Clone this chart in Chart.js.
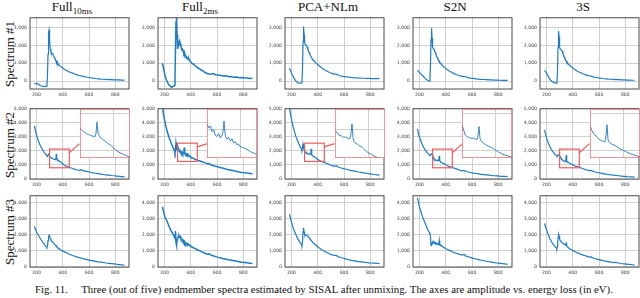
<!DOCTYPE html>
<html>
<head>
<meta charset="utf-8">
<script src="https://cdn.jsdelivr.net/npm/chart.js@4/dist/chart.umd.min.js"></script>
<style>
  html, body { margin: 0; padding: 0; background: #fff; }
  body { width: 640px; height: 298px; position: relative; overflow: hidden;
         font-family: 'Liberation Serif', 'DejaVu Serif', serif; color: #111; }
  canvas { position: absolute; }
  .title { position: absolute; top: -1px; font-size: 13px; white-space: nowrap; transform: translateX(-50%); }
  .title sub { font-size: 9px; vertical-align: -3px; line-height: 0; }
  .rowlab { position: absolute; font-size: 13px; white-space: nowrap; transform: translate(-50%, -50%) rotate(-90deg); }
  #caption { position: absolute; left: 35px; top: 283px; font-size: 10.8px; white-space: pre; }
</style>
</head>
<body>
<div id="fig"></div>
<div id="caption">Fig. 11.     Three (out of five) endmember spectra estimated by SISAL after unmixing. The axes are amplitude vs. energy loss (in eV).</div>
<script>
'use strict';

// ──────────────────────────────────────────────────────────────
//  Data (energy loss in eV, amplitude)
// ──────────────────────────────────────────────────────────────
const ENERGY = [185, 195, 205, 215, 225, 235, 245, 255, 265, 275,
  280, 284, 288, 292, 296, 300,
  305, 310, 315, 320, 325, 330, 335, 340, 345, 348, 351, 354, 357, 360, 365, 370, 375, 380, 385, 390, 395, 400, 410, 420, 430, 440, 450,
  465, 480, 495, 510, 525, 540, 555, 570, 590, 610, 630, 650, 670, 690, 710, 730, 750, 770, 790, 810, 830, 850, 870];

const COLUMNS = ['Full|10ms', 'Full|2ms', 'PCA+NLm', 'S2N', '3S'];
const ROWS = ['Spectrum #1', 'Spectrum #2', 'Spectrum #3'];
const X_TICKS = [200, 400, 600, 800];
const Y_TICKS = [[0, 1000, 2000, 3000], [0, 1000, 2000, 3000, 4000, 5000], [0, 1000, 2000, 3000, 4000]];

// Spectrum #1
const spec1Full10 = [-120, -150, -130, -180, -230, -260, -280, -300, -310, -280,
  -200, 300, 1500, 2700, 2850, 2300,
  1800, 1620, 1580, 1560, 1500, 1420, 1340, 1260, 1180, 1120, 1060, 1030, 1090, 1000, 960, 920, 880, 850, 820, 790, 760, 730, 680, 630, 590, 550, 510,
  470, 430, 385, 350, 315, 290, 265, 240, 215, 190, 165, 145, 130, 115, 105, 95, 85, 80, 75, 70, 65, 60, 55];
const spec1Full2 = [1000, 650, 300, 80, -100, -220, -280, -350, -300, -250,
  200, 1800, 3300, 3650, 2600, 1800,
  2000, 2150, 2250, 2100, 1950, 1850, 1800, 1700, 1650, 1560, 1620, 1500, 1480, 1420, 1380, 1320, 1280, 1220, 1250, 1150, 1100, 1080, 980, 960, 870, 830, 760,
  700, 620, 560, 480, 430, 400, 380, 420, 360, 340, 310, 290, 300, 250, 240, 220, 230, 190, 200, 170, 180, 150, 160];
const spec1Pca = [720, 550, 380, 220, 100, 0, -80, -120, -130, -100,
  -50, 600, 2200, 3050, 2600, 2150,
  2050, 2000, 1950, 1900, 1780, 1680, 1580, 1500, 1420, 1380, 1330, 1300, 1260, 1230, 1180, 1140, 1100, 1060, 1030, 990, 960, 930, 860, 800, 740, 690, 640,
  580, 520, 470, 430, 390, 390, 340, 300, 270, 250, 230, 210, 195, 185, 175, 165, 160, 155, 150, 145, 145, 140, 140];
const spec1S2n = [620, 520, 450, 380, 300, 220, 140, 80, 30, 0,
  100, 900, 2300, 2950, 2400, 1900,
  1820, 1780, 1700, 1600, 1500, 1400, 1320, 1240, 1180, 1130, 1100, 1060, 1030, 1000, 950, 910, 870, 830, 800, 770, 740, 710, 650, 600, 550, 510, 470,
  420, 370, 330, 290, 260, 270, 220, 195, 170, 150, 130, 115, 100, 90, 80, 70, 65, 60, 55, 50, 45, 40, 40];
const spec1S3 = [600, 520, 400, 250, 120, 30, -30, -70, -100, -120,
  -60, 500, 1900, 2800, 2500, 1900,
  1780, 1750, 1720, 1680, 1560, 1460, 1360, 1270, 1200, 1150, 1130, 1080, 1060, 1020, 970, 930, 890, 860, 830, 800, 770, 740, 680, 630, 580, 540, 500,
  450, 400, 360, 320, 290, 280, 240, 215, 190, 165, 145, 130, 115, 105, 95, 85, 80, 70, 65, 60, 55, 50, 50];

// Spectrum #2
const spec2Full10 = [3780, 3350, 3000, 2720, 2480, 2280, 2100, 1950, 1820, 1700,
  1640, 1620, 1700, 1720, 1660, 1610,
  1560, 1520, 1490, 1460, 1440, 1420, 1400, 1390, 1380, 1470, 1780, 1480, 1420, 1360, 1330, 1290, 1260, 1220, 1190, 1160, 1120, 1080, 1000, 940, 900, 860, 830,
  780, 730, 690, 640, 620, 660, 590, 560, 520, 480, 440, 410, 380, 350, 320, 300, 280, 250, 230, 210, 190, 170, 150];
const spec2Full2 = [5100, 4500, 4000, 3600, 3250, 2950, 2700, 2450, 2250, 2050,
  1850, 2000, 2550, 2300, 2100, 2150,
  2050, 2100, 1950, 2000, 1850, 1820, 1900, 1780, 1850, 1950, 2230, 1900, 1800, 1750, 1800, 1700, 1760, 1650, 1680, 1600, 1620, 1550, 1520, 1480, 1420, 1380, 1340,
  1300, 1250, 1200, 1150, 1080, 1100, 1000, 960, 900, 860, 800, 760, 700, 660, 620, 580, 540, 500, 470, 450, 420, 400, 380];
const spec2Pca = [5000, 4500, 4050, 3650, 3300, 3000, 2750, 2520, 2320, 2150,
  2050, 2200, 2500, 2300, 2050, 1980,
  1940, 1870, 1850, 1830, 1800, 1810, 1790, 1760, 1770, 1900, 2150, 1800, 1680, 1650, 1630, 1600, 1560, 1540, 1500, 1460, 1420, 1390, 1340, 1290, 1250, 1220, 1180,
  1120, 1060, 1000, 950, 900, 950, 850, 800, 760, 710, 660, 620, 580, 540, 500, 470, 440, 410, 380, 350, 320, 300, 280];
const spec2S2n = [3560, 3150, 2850, 2600, 2380, 2200, 2050, 1920, 1820, 1730,
  1680, 1700, 1760, 1780, 1760, 1700,
  1560, 1420, 1380, 1360, 1340, 1330, 1340, 1310, 1300, 1400, 1650, 1330, 1280, 1240, 1200, 1170, 1140, 1120, 1100, 1080, 1050, 1020, 960, 910, 880, 850, 820,
  770, 720, 670, 620, 580, 610, 530, 500, 460, 420, 390, 360, 330, 310, 290, 270, 250, 230, 220, 200, 190, 180, 170];
const spec2S3 = [3490, 3100, 2800, 2550, 2330, 2150, 2000, 1870, 1760, 1680,
  1620, 1630, 1700, 1720, 1710, 1680,
  1560, 1470, 1430, 1370, 1330, 1290, 1270, 1250, 1240, 1400, 1700, 1300, 1240, 1210, 1180, 1160, 1140, 1110, 1080, 1050, 1030, 1010, 960, 920, 890, 860, 830,
  780, 730, 680, 630, 590, 620, 540, 500, 460, 420, 380, 350, 320, 290, 270, 250, 230, 210, 190, 170, 160, 150, 140];

// Spectrum #3
const spec3Full10 = [2530, 2300, 2120, 1980, 1840, 1700, 1580, 1470, 1360, 1260,
  1220, 1300, 1650, 1900, 1980, 1900,
  1780, 1700, 1640, 1580, 1540, 1490, 1440, 1400, 1360, 1330, 1330, 1280, 1250, 1230, 1190, 1150, 1120, 1090, 1060, 1040, 1020, 1000, 960, 920, 880, 840, 800,
  750, 700, 660, 620, 580, 560, 520, 490, 450, 410, 380, 350, 320, 300, 280, 250, 230, 210, 190, 170, 150, 130, 110];
const spec3Full2 = [3760, 3400, 3100, 2950, 2750, 2550, 2350, 2200, 2050, 1900,
  1800, 2250, 1500, 1350, 1700, 1800,
  1900, 1950, 1850, 1900, 1750, 1700, 1720, 1620, 1650, 1560, 1600, 1520, 1540, 1480, 1500, 1420, 1450, 1380, 1400, 1340, 1350, 1300, 1260, 1200, 1160, 1120, 1080,
  1020, 960, 910, 860, 800, 820, 740, 700, 650, 600, 560, 520, 480, 450, 420, 390, 360, 330, 300, 280, 260, 240, 220];
const spec3Pca = [3300, 2950, 2650, 2400, 2180, 2000, 1830, 1680, 1540, 1400,
  1340, 1500, 2200, 2450, 2200, 2050,
  2000, 2000, 1980, 1960, 1920, 1880, 1820, 1760, 1710, 1680, 1650, 1620, 1590, 1560, 1520, 1480, 1440, 1400, 1370, 1340, 1300, 1270, 1200, 1140, 1080, 1030, 980,
  920, 860, 800, 760, 720, 720, 650, 610, 560, 510, 470, 430, 400, 370, 340, 320, 300, 280, 260, 250, 240, 230, 220];
const spec3S2n = [4320, 3950, 3600, 3350, 3100, 2900, 2700, 2500, 2300, 2150,
  2050, 1900, 1350, 1500, 1450, 1550,
  1500, 1560, 1480, 1540, 1450, 1480, 1420, 1440, 1400, 1450, 1650, 1380, 1350, 1360, 1300, 1310, 1260, 1250, 1220, 1200, 1180, 1160, 1110, 1070, 1030, 990, 950,
  900, 860, 820, 780, 740, 780, 680, 640, 590, 540, 500, 460, 420, 390, 360, 330, 300, 270, 250, 230, 210, 190, 160];
const spec3S3 = [2720, 2450, 2220, 2000, 1800, 1640, 1500, 1380, 1270, 1180,
  1150, 1300, 1800, 2050, 1950, 1750,
  1650, 1600, 1560, 1520, 1480, 1460, 1430, 1400, 1370, 1400, 1480, 1330, 1290, 1260, 1220, 1180, 1150, 1120, 1100, 1080, 1060, 1040, 990, 950, 910, 870, 840,
  790, 740, 700, 660, 620, 630, 560, 530, 480, 440, 400, 370, 340, 310, 290, 270, 250, 220, 200, 180, 160, 140, 120];

const GRID = [
  [spec1Full10, spec1Full2, spec1Pca, spec1S2n, spec1S3],
  [spec2Full10, spec2Full2, spec2Pca, spec2S2n, spec2S3],
  [spec3Full10, spec3Full2, spec3Pca, spec3S2n, spec3S3],
];

// zoom window shown in the Spectrum #2 insets
const INSET_X = [300, 450];
const INSET_Y = [[800, 2130], [1250, 2550], [1250, 2550], [800, 2130], [800, 2130]];

// ──────────────────────────────────────────────────────────────
//  Layout + styling
// ──────────────────────────────────────────────────────────────
const X_RANGE = [151, 904];
const Y_RANGE = [[-440, 3540], [0, 5000], [0, 4450]];
const COL_LEFT = [30, 157.5, 285, 412.5, 540];
const ROW_TOP = [15, 106, 193];
const ROW_H = [74, 73, 73.5];
const BOX_W = 99;
const YAX_W = 28, XAX_H = 12, PAD_T = 3, PAD_R = 3;
const INSET_FRAC = { left: 0.5, top: 0.04, w: 0.5, h: 0.67 };
const TITLE_X = [72, 200, 328, 455, 583];

const BLUE = '#1f7bc4';
const RED = '#f25c5c';
const FRAME = '#4a4a4a';
const GRIDC = '#cfcfcf';
const TICK_FONT = { family: "'DejaVu Sans', sans-serif", size: 4.6 };

const fig = document.getElementById('fig');

function fmt(v) { return Number(v).toLocaleString('en-US'); }

// frame, zoom rectangle and connector drawn over the data
const framePlugin = {
  id: 'frame',
  afterDatasetsDraw(chart, args, opts) {
    const { ctx, chartArea: a, scales } = chart;
    ctx.save();
    if (opts.zoom) {
      const z = opts.zoom;
      const x0 = scales.x.getPixelForValue(z.x[0]), x1 = scales.x.getPixelForValue(z.x[1]);
      const y0 = scales.y.getPixelForValue(z.y[1]), y1 = scales.y.getPixelForValue(z.y[0]);
      ctx.strokeStyle = RED;
      ctx.lineWidth = 1.2;
      ctx.strokeRect(x0, y0, x1 - x0, y1 - y0);
      const w = a.right - a.left, h = a.bottom - a.top;
      const ix = a.left + INSET_FRAC.left * w;
      const iy = a.top + (INSET_FRAC.top + 0.68 * INSET_FRAC.h) * h;
      ctx.beginPath();
      ctx.moveTo(x1, y0 + 0.2 * (y1 - y0));
      ctx.lineTo(ix, iy);
      ctx.stroke();
    }
    ctx.strokeStyle = opts.frameColor || FRAME;
    ctx.lineWidth = opts.frameWidth || 1;
    ctx.strokeRect(a.left, a.top, a.right - a.left, a.bottom - a.top);
    ctx.restore();
  },
};

const whiteBg = {
  id: 'whiteBg',
  beforeDraw(chart) {
    const { ctx, width, height } = chart;
    ctx.save();
    ctx.fillStyle = '#fff';
    ctx.fillRect(0, 0, width, height);
    ctx.restore();
  },
};

function makeCanvas(left, top, w, h) {
  const c = document.createElement('canvas');
  c.width = Math.round(w);
  c.height = Math.round(h);
  c.style.left = left + 'px';
  c.style.top = top + 'px';
  fig.appendChild(c);
  return c;
}

// ──────────────────────────────────────────────────────────────
//  Panels
// ──────────────────────────────────────────────────────────────
function renderPanel(r, c) {
  const L = COL_LEFT[c], T = ROW_TOP[r], H = ROW_H[r];
  const canvas = makeCanvas(L - YAX_W, T - PAD_T, YAX_W + BOX_W + PAD_R, PAD_T + H + XAX_H);
  const noisy = c === 1;

  new Chart(canvas, {
    type: 'line',
    data: {
      datasets: [{
        data: ENERGY.map((e, i) => ({ x: e, y: GRID[r][c][i] })),
        borderColor: BLUE,
        borderWidth: noisy ? 1.5 : 1.2,
        pointRadius: 0,
        tension: 0,
        fill: false,
      }],
    },
    options: {
      responsive: false,
      animation: false,
      events: [],
      layout: { padding: { top: PAD_T, right: PAD_R, left: 0, bottom: 0 } },
      plugins: {
        legend: { display: false },
        tooltip: { enabled: false },
        frame: { zoom: r === 1 ? { x: INSET_X, y: INSET_Y[c] } : null, frameColor: FRAME, frameWidth: 1 },
      },
      scales: {
        x: {
          type: 'linear',
          min: X_RANGE[0], max: X_RANGE[1],
          afterBuildTicks: s => { s.ticks = X_TICKS.map(v => ({ value: v })); },
          afterFit: s => { s.height = XAX_H; },
          grid: { color: GRIDC, lineWidth: 1, drawTicks: false },
          border: { display: false },
          ticks: { font: TICK_FONT, color: '#444', padding: 3, maxRotation: 0, callback: v => fmt(v) },
        },
        y: {
          min: Y_RANGE[r][0], max: Y_RANGE[r][1],
          afterBuildTicks: s => { s.ticks = Y_TICKS[r].map(v => ({ value: v })); },
          afterFit: s => { s.width = YAX_W; },
          grid: { color: GRIDC, lineWidth: 1, drawTicks: false },
          border: { display: false },
          ticks: { font: TICK_FONT, color: '#444', padding: 3, callback: v => fmt(v) },
        },
      },
    },
    plugins: [framePlugin],
  });

  if (r === 1) renderInset(c, L, T, H);
}

function renderInset(c, L, T, H) {
  const left = L + INSET_FRAC.left * BOX_W;
  const top = T + INSET_FRAC.top * H;
  const canvas = makeCanvas(left, top, INSET_FRAC.w * BOX_W, INSET_FRAC.h * H);
  const [ylo, yhi] = INSET_Y[c];

  new Chart(canvas, {
    type: 'line',
    data: {
      datasets: [{
        data: ENERGY.map((e, i) => ({ x: e, y: GRID[1][c][i] })),
        borderColor: BLUE,
        borderWidth: 0.9,
        pointRadius: 0,
        tension: 0,
      }],
    },
    options: {
      responsive: false,
      animation: false,
      events: [],
      layout: { padding: 0 },
      plugins: { legend: { display: false }, tooltip: { enabled: false }, frame: { zoom: null, frameColor: RED, frameWidth: 1.3 } },
      scales: {
        x: {
          type: 'linear', min: INSET_X[0], max: INSET_X[1],
          afterBuildTicks: s => { s.ticks = X_TICKS.filter(v => v > INSET_X[0] && v < INSET_X[1]).map(v => ({ value: v })); },
          afterFit: s => { s.height = 0; },
          grid: { color: GRIDC, lineWidth: 1, drawTicks: false },
          border: { display: false },
          ticks: { display: false },
        },
        y: {
          min: ylo, max: yhi,
          afterBuildTicks: s => { s.ticks = Y_TICKS[1].filter(v => v > ylo && v < yhi).map(v => ({ value: v })); },
          afterFit: s => { s.width = 0; },
          grid: { color: GRIDC, lineWidth: 1, drawTicks: false },
          border: { display: false },
          ticks: { display: false },
        },
      },
    },
    plugins: [whiteBg, framePlugin],
  });
}

// ──────────────────────────────────────────────────────────────
//  Titles and row labels
// ──────────────────────────────────────────────────────────────
COLUMNS.forEach((name, c) => {
  const el = document.createElement('div');
  el.className = 'title';
  el.style.left = TITLE_X[c] + 'px';
  const [main, sub] = name.split('|');
  el.textContent = main;
  if (sub) {
    const s = document.createElement('sub');
    s.textContent = sub;
    el.appendChild(s);
  }
  fig.appendChild(el);
});

ROWS.forEach((name, r) => {
  const el = document.createElement('div');
  el.className = 'rowlab';
  el.style.left = '10px';
  el.style.top = (ROW_TOP[r] + ROW_H[r] / 2 + 2) + 'px';
  el.textContent = name;
  fig.appendChild(el);
});

for (let r = 0; r < 3; r++) {
  for (let c = 0; c < 5; c++) renderPanel(r, c);
}
</script>
</body>
</html>
